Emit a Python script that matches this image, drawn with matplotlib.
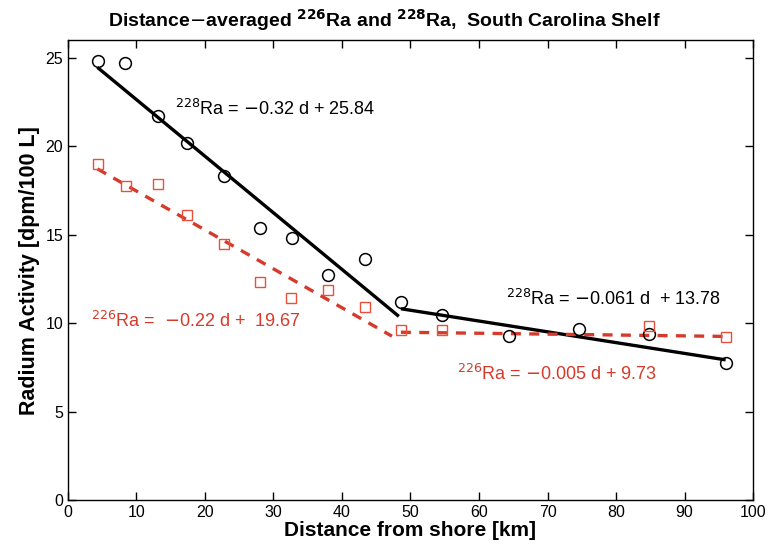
import matplotlib
matplotlib.use("Agg")
import matplotlib.pyplot as plt
import numpy as np

plt.rcParams['font.family'] = ['Liberation Sans', 'DejaVu Sans']

# 228Ra observations (circles)
d228 = [4.4, 8.3, 13.1, 17.4, 22.8, 28.0, 32.7, 38.0, 43.3, 48.6, 54.6, 64.4, 74.6, 84.8, 96.0]
ra228 = [24.8, 24.7, 21.7, 20.2, 18.3, 15.4, 14.8, 12.7, 13.6, 11.2, 10.45, 9.3, 9.65, 9.4, 7.75]
# 226Ra observations (squares)
d226 = [4.4, 8.4, 13.1, 17.4, 22.8, 28.0, 32.6, 38.0, 43.3, 48.6, 54.6, 84.8, 96.0]
ra226 = [19.0, 17.75, 17.85, 16.1, 14.5, 12.35, 11.4, 11.9, 10.9, 9.6, 9.6, 9.85, 9.2]

# Regression fits: (slope, intercept, d_start, d_end)
fit228_near = (-0.32, 25.84, 4.3, 48.3)
fit228_far = (-0.061, 13.78, 48.6, 96.0)
fit226_near = (-0.22, 19.67, 4.3, 47.3)
fit226_far = (-0.005, 9.73, 48.6, 96.0)

xticks = [0, 10, 20, 30, 40, 50, 60, 70, 80, 90, 100]
yticks = [0, 5, 10, 15, 20, 25]

RED = '#d63a2a'
RED_M = '#e8503c'

fig = plt.figure(figsize=(7.68, 5.48), dpi=100)
ax = fig.add_axes([0.0885, 0.0876, 0.892, 0.839])

def seg(fit):
    m, b, a, e = fit
    x = np.array([a, e])
    return x, m * x + b

for fit in (fit228_near, fit228_far):
    x, y = seg(fit)
    ax.plot(x, y, color='black', lw=2.4, solid_capstyle='butt', zorder=2)
for fit in (fit226_near, fit226_far):
    x, y = seg(fit)
    ax.plot(x, y, color=RED, lw=2.4, ls=(0, (3.0, 2.5)), zorder=2)

ax.plot(d228, ra228, 'o', mfc='none', mec='black', ms=8.5, mew=1.1, zorder=3)
ax.plot(d226, ra226, 's', mfc='none', mec=RED_M, ms=7, mew=1.0, zorder=3)

fs = 13
ax.text(15.6, 22.1, r'$^{228}$Ra = $-$0.32 d + 25.84', fontsize=fs, color='black', va='center')
ax.text(64.0, 11.35, r'$^{228}$Ra = $-$0.061 d  + 13.78', fontsize=fs, color='black', va='center')
ax.text(3.4, 10.1, r'$^{226}$Ra =  $-$0.22 d +  19.67', fontsize=fs, color=RED, va='center')
ax.text(56.8, 7.1, r'$^{226}$Ra = $-$0.005 d + 9.73', fontsize=fs, color=RED, va='center')

ax.set_xlim(0, 100)
ax.set_ylim(0, 26)
ax.set_xticks(xticks)
ax.set_yticks(yticks)
ax.tick_params(direction='in', top=True, right=True, length=6, width=1, labelsize=11.5)
for s in ax.spines.values():
    s.set_linewidth(1.0)

ax.set_xlabel('Distance from shore [km]', fontsize=15, fontweight='bold', labelpad=1)
ax.set_ylabel('Radium Activity [dpm/100 L]', fontsize=15.5, fontweight='bold', labelpad=4)
fig.text(0.5, 0.963,
         r'Distance$-$averaged $\mathbf{^{226}}$Ra and $\mathbf{^{228}}$Ra,  South Carolina Shelf',
         fontsize=14, fontweight='bold', ha='center', va='center')

fig.savefig('out.png', dpi=100)
